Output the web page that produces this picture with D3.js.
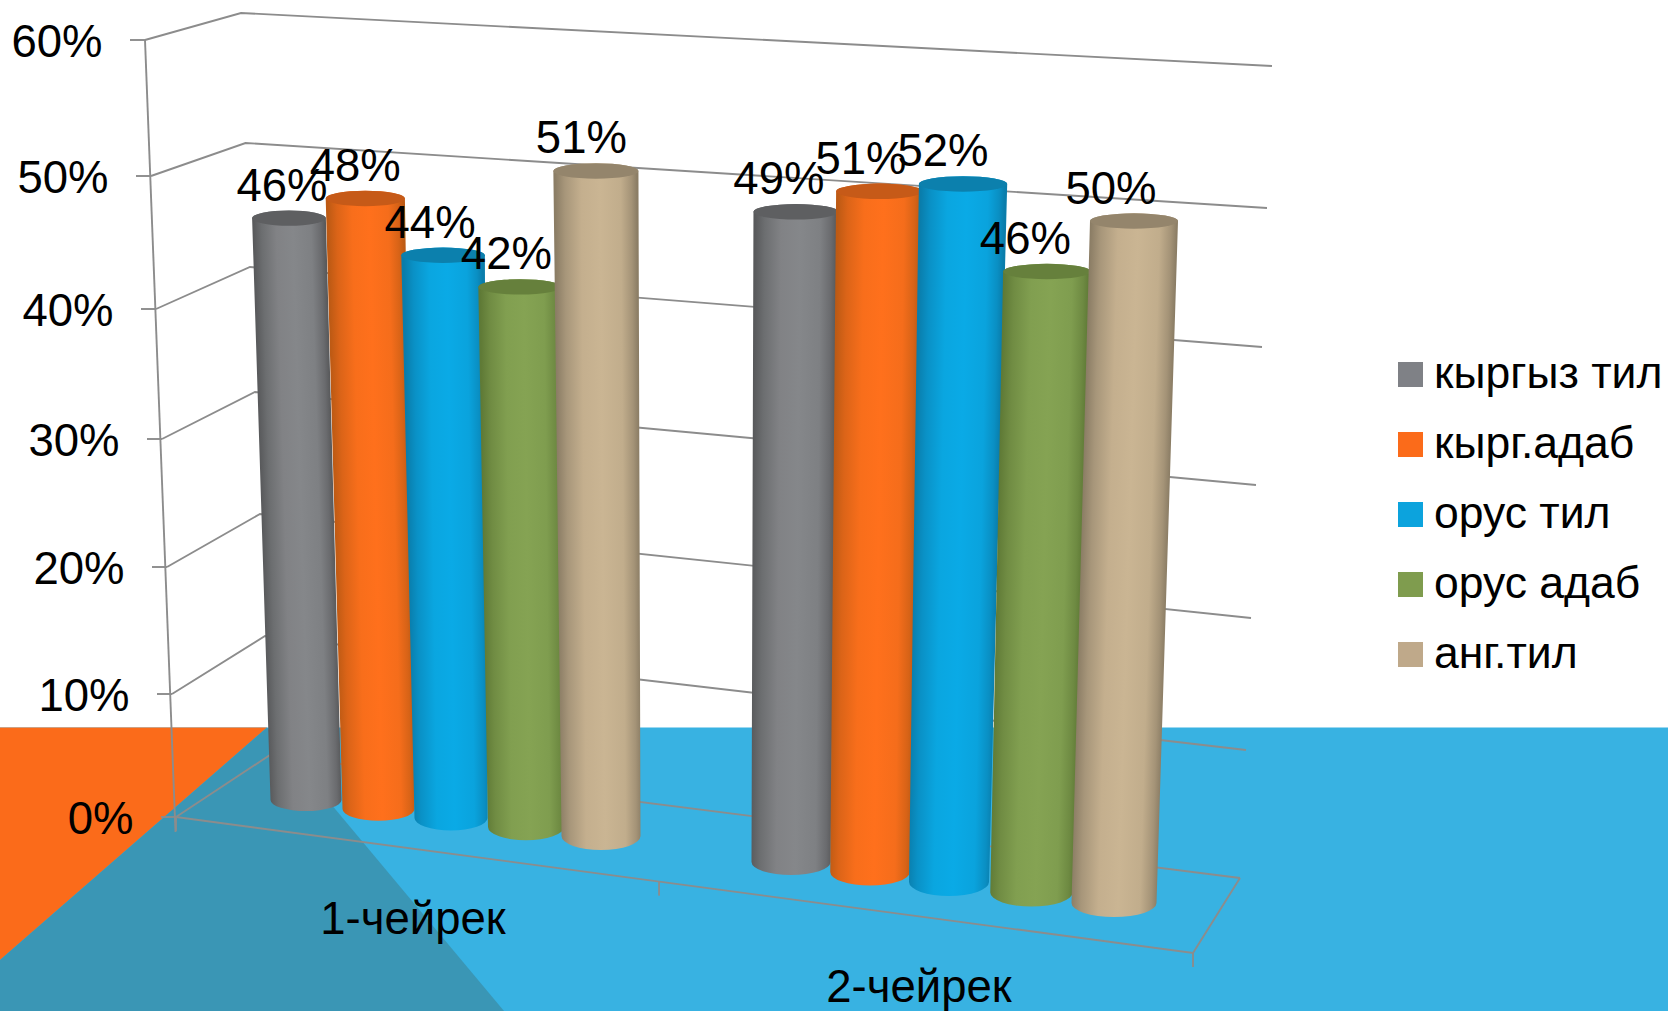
<!DOCTYPE html>
<html>
<head>
<meta charset="utf-8">
<script src="https://cdn.jsdelivr.net/npm/d3@7"></script>
<style>
html,body{margin:0;padding:0;background:#fff;overflow:hidden}
svg{display:block}
text{font-family:"Liberation Sans",Arial,sans-serif;fill:#000}
</style>
</head>
<body>
<div id="chart"></div>
<script>
// ---- data ----
const categories = ["1-чейрек", "2-чейрек"];
const seriesNames = ["кыргыз тил", "кырг.адаб", "орус тил", "орус адаб", "анг.тил"];
const kyrgyzTil = [0.46, 0.49];
const kyrgAdab  = [0.48, 0.51];
const orusTil   = [0.44, 0.52];
const orusAdab  = [0.42, 0.46];
const angTil    = [0.51, 0.50];
const seriesValues = [kyrgyzTil, kyrgAdab, orusTil, orusAdab, angTil];
const valueTicks = [0, 0.1, 0.2, 0.3, 0.4, 0.5, 0.6];

// ---- styles ----
const swatchColors = ["#7f8186", "#fb6b1a", "#0ca3dd", "#7f9c4e", "#bfa98a"];
const midColors  = ["#85878a", "#ff701c", "#0aaae6", "#85a353", "#cab593"];
const edgeColors = ["#58595b", "#bd5a14", "#0a7dab", "#5f7a36", "#8b7d65"];
const capColors  = ["#5e5f61", "#c65a18", "#0c80ad", "#66803c", "#94856c"];

// ---- projection scales (the chart is a perspective view) ----
const frontX = d3.scaleLinear().domain(valueTicks).range([176, 172, 167, 162, 156, 151, 145]);
const frontY = d3.scaleLinear().domain(valueTicks).range([817, 694, 567, 439, 309, 176, 40]);
const backLX = d3.scaleLinear().domain(valueTicks).range([270, 265, 260, 255, 250, 245.5, 241]);
const backLY = d3.scaleLinear().domain(valueTicks).range([755, 636, 514, 392, 267, 143, 13]);
const backRX = d3.scaleLinear().domain(valueTicks).range([1240, 1246, 1251, 1256, 1262, 1267, 1272]);
const backRY = d3.scaleLinear().domain(valueTicks).range([878, 750, 618, 485, 347, 208, 66]);

// cylinder slots run along the floor; group 2 starts after a gap
const g2 = 6.47;
const slots = [0, 2, 4, g2, g2 + 2, g2 + 4];
const baseX  = d3.scaleLinear().domain(slots).range([306, 451, 601, 791, 949, 1114]);
const baseY  = d3.scaleLinear().domain(slots).range([800, 818, 836, 862, 882, 903]);
const lean   = d3.scaleLinear().domain(slots).range([-37, -18, -10, 10, 27, 40]);
const baseRx = d3.scaleLinear().domain(slots).range([35.5, 36.5, 39.5, 39.5, 40, 42.5]);
const flare  = d3.scaleLinear().domain(slots).range([3, 12, 6, 6, 8, 3]);
const baseRy = d3.scaleLinear().domain(slots).range([11, 12.5, 14, 13, 14, 14]);
const labelDx = d3.scaleLinear().domain(slots).range([-7, -13, -14.5, -17, -20, -23]);
const pxPer  = d3.scaleLinear().domain([0, 3, 4, g2, g2 + 3, g2 + 4]).range([1265, 1286, 1304, 1327, 1350, 1364]);
const topRy = 7.7;
const pct = d3.format(".0%");
const textSize = 45.5;

const svg = d3.select("#chart").append("svg").attr("width", 1668).attr("height", 1011);
const defs = svg.append("defs");

// ---- slide background ----
const w = 1668, h = 1011, horizon = 727.5;
svg.append("rect").attr("x", 0).attr("y", horizon).attr("width", w).attr("height", h - horizon).attr("fill", "#38b2e2");
svg.append("path").attr("d", `M0,${horizon}L267,${horizon}L0,960Z`).attr("fill", "#fb6b1a");
svg.append("path").attr("d", `M267,${horizon}L0,960L0,${h}L504,${h}Z`).attr("fill", "#3a96b5");

// ---- walls and gridlines ----
const gridColor = "#8c8c8c";
const grid = svg.append("g").attr("fill", "none").attr("stroke", gridColor).attr("stroke-width", 1.9);
valueTicks.forEach(v => {
  grid.append("path").attr("d",
    `M${frontX(v)},${frontY(v)}L${backLX(v)},${backLY(v)}L${backRX(v)},${backRY(v)}`);
  grid.append("line").attr("x1", frontX(v) - 15).attr("x2", frontX(v))
    .attr("y1", frontY(v)).attr("y2", frontY(v));
});
// vertical value axis
grid.append("line").attr("x1", frontX(0.6)).attr("y1", frontY(0.6)).attr("x2", frontX(0) - 0.5).attr("y2", frontY(0) + 15);
// floor front edge, right edge and category ticks (foreshortened by the view)
const floorFrontRight = [1193, 953];
const tickAlong = d3.scaleLinear().domain([0, 1, 2]).range([0, 0.475, 1]);
const frontAt = t => [frontX(0) + (floorFrontRight[0] - frontX(0)) * t, frontY(0) + (floorFrontRight[1] - frontY(0)) * t];
grid.append("path").attr("d",
  `M${frontX(0)},${frontY(0)}L${floorFrontRight}L${backRX(0)},${backRY(0)}`);
d3.range(categories.length + 1).forEach(i => {
  const p = frontAt(tickAlong(i));
  grid.append("line").attr("x1", p[0]).attr("x2", p[0]).attr("y1", p[1]).attr("y2", p[1] + 14);
});

// ---- value axis labels ----
svg.append("g").selectAll("text").data(valueTicks).join("text")
  .attr("x", v => frontX(v) - 42.5)
  .attr("y", v => frontY(v) + 17)
  .attr("text-anchor", "end")
  .attr("font-size", textSize)
  .text(v => pct(v));

// ---- cylinders ----
const marks = [];
categories.forEach((c, g) => {
  seriesNames.forEach((s, i) => {
    const slot = g * g2 + i;
    const v = seriesValues[i][g];
    const x0 = baseX(slot), y0 = baseY(slot);
    const x1 = x0 + lean(slot) * v, y1 = y0 - pxPer(slot) * v;
    const r0 = baseRx(slot), r1 = r0 + flare(slot) * v;
    marks.push({g, i, slot, v, x0, y0, x1, y1, r0, r1, ry0: baseRy(slot)});
  });
});
const mix = d3.interpolateRgb;
marks.forEach((m, k) => {
  // gradient runs across the cylinder, square to its (leaning) axis
  const dx = m.x1 - m.x0, dy = m.y1 - m.y0, len = Math.hypot(dx, dy);
  const nx = -dy / len, ny = dx / len;
  const cx = (m.x0 + m.x1) / 2, cy = (m.y0 + m.y1) / 2, r = (m.r0 + m.r1) / 2;
  const edge = edgeColors[m.i], mid = midColors[m.i];
  const grad = defs.append("linearGradient").attr("id", "cyl" + k)
    .attr("gradientUnits", "userSpaceOnUse")
    .attr("x1", cx - nx * r).attr("y1", cy - ny * r)
    .attr("x2", cx + nx * r).attr("y2", cy + ny * r);
  [[0, edge], [0.12, mix(edge, mid)(0.45)], [0.32, mix(edge, mid)(0.9)], [0.55, mid],
   [0.8, mix(edge, mid)(0.85)], [0.93, mix(edge, mid)(0.4)], [1, edge]].forEach(([o, col]) =>
    grad.append("stop").attr("offset", o).attr("stop-color", col));
});
const bars = svg.append("g");
marks.forEach((m, k) => {
  bars.append("path")
    .attr("d", `M${m.x1 - m.r1},${m.y1}L${m.x0 - m.r0},${m.y0}` +
               `A${m.r0},${m.ry0} 0 0 0 ${m.x0 + m.r0},${m.y0}` +
               `L${m.x1 + m.r1},${m.y1}A${m.r1},${topRy} 0 0 0 ${m.x1 - m.r1},${m.y1}Z`)
    .attr("fill", `url(#cyl${k})`);
  bars.append("ellipse")
    .attr("cx", m.x1).attr("cy", m.y1).attr("rx", m.r1).attr("ry", topRy)
    .attr("fill", capColors[m.i]);
});

// ---- data labels ----
svg.append("g").selectAll("text").data(marks).join("text")
  .attr("x", m => m.x1 + labelDx(m.slot))
  .attr("y", m => m.y1 - 17.5)
  .attr("text-anchor", "middle")
  .attr("font-size", textSize)
  .text(m => pct(m.v));

// ---- category labels ----
const catX = d3.scalePoint().domain(categories).range([413, 919]);
const catY = d3.scalePoint().domain(categories).range([934, 1002]);
svg.append("g").selectAll("text").data(categories).join("text")
  .attr("x", c => catX(c)).attr("y", c => catY(c))
  .attr("text-anchor", "middle").attr("font-size", textSize).text(c => c);

// ---- legend ----
const legY = d3.scalePoint().domain(seriesNames).range([362, 642]);
const leg = svg.append("g").selectAll("g").data(seriesNames).join("g")
  .attr("transform", s => `translate(1398,${legY(s)})`);
leg.append("rect").attr("width", 25).attr("height", 25).attr("fill", (s, i) => swatchColors[i]);
leg.append("text").attr("x", 36).attr("y", 26).attr("font-size", 44.5).text(s => s);
</script>
</body>
</html>
